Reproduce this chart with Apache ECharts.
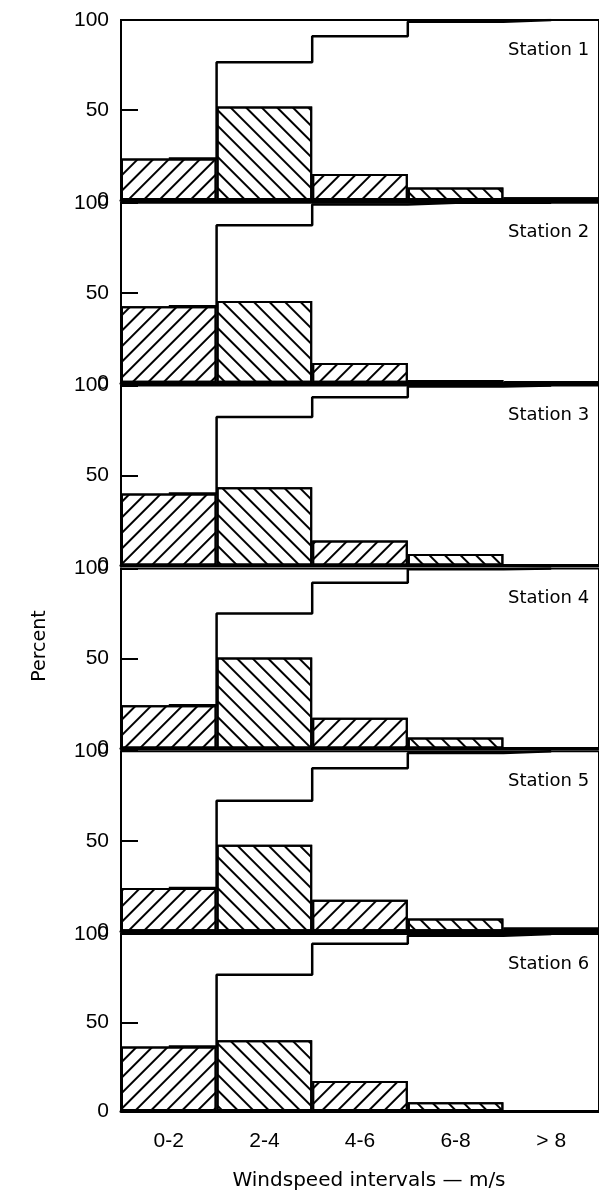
<!DOCTYPE html>
<html>
<head>
<meta charset="utf-8">
<script src="https://cdn.jsdelivr.net/npm/echarts@6/dist/echarts.min.js"></script>
<style>
  html, body { margin: 0; padding: 0; background: #fff; }
  #chart { width: 599px; height: 1192px; }
</style>
</head>
<body>
<div id="chart"></div>
<script>
// windspeed bins and y ticks
const bins = ['0-2', '2-4', '4-6', '6-8', '> 8']
const yTicks = [0, 50, 100]
const stations = ['Station 1', 'Station 2', 'Station 3', 'Station 4', 'Station 5', 'Station 6']

// frequency per interval (%)
const freq1 = [23, 52, 14.5, 7, 1.5]
const freq2 = [42.5, 45.5, 11, 1.5, 1]
const freq3 = [40, 43.5, 14, 6.5, 0]
const freq4 = [24, 50.5, 17, 6, 0]
const freq5 = [24, 48, 17.5, 7, 2]
const freq6 = [36.5, 40, 17, 5, 0]

// cumulative percent (step line)
const cum1 = [23, 76.5, 91, 99, 100]
const cum2 = [42.5, 87.5, 99, 100, 100]
const cum3 = [40, 82.5, 93.5, 99.5, 100]
const cum4 = [24, 75, 92, 99.5, 100]
const cum5 = [24, 72.5, 90.5, 99, 100]
const cum6 = [36.5, 77, 94.5, 99, 100]

const freqs = [freq1, freq2, freq3, freq4, freq5, freq6]
const cums = [cum1, cum2, cum3, cum4, cum5, cum6]

const FONT = 'Liberation Sans'
const gridLeft = 121
const binWidth = 97.3
const gridHeight = 180
const gridStep = 182.8
const firstTop = 20

// hatch patterns: /, \, /, \, dashes
const hatchFwd = { symbol: 'rect', symbolSize: 1, color: '#000', dashArrayX: [1, 0], dashArrayY: [2, 9], rotation: -Math.PI / 4 }
const hatchBack = { symbol: 'rect', symbolSize: 1, color: '#000', dashArrayX: [1, 0], dashArrayY: [2, 9], rotation: Math.PI / 4 }
const hatchDash = { symbol: 'rect', symbolSize: 1, color: '#000', dashArrayX: [8, 5], dashArrayY: [2, 3], rotation: 0 }
const patterns = [hatchFwd, hatchBack, hatchFwd, hatchBack, hatchDash]

const grids = []
const xAxes = []
const yAxes = []
const series = []
const graphics = []

stations.forEach((name, i) => {
  const top = firstTop + i * gridStep
  const last = i === stations.length - 1
  grids.push({
    left: gridLeft,
    top: top,
    width: binWidth * bins.length,
    height: gridHeight,
    show: true,
    borderColor: '#000',
    borderWidth: 2,
    backgroundColor: 'transparent'
  })
  xAxes.push({
    type: 'category',
    gridIndex: i,
    data: bins,
    boundaryGap: true,
    axisLine: { show: true, lineStyle: { color: '#000', width: 3 } },
    axisTick: { show: false },
    axisLabel: {
      show: last,
      color: '#000',
      fontFamily: FONT,
      fontSize: 21,
      margin: 20
    },
    name: last ? 'Windspeed intervals \u2014 m/s' : '',
    nameLocation: 'middle',
    nameGap: 60,
    nameTextStyle: { color: '#000', fontFamily: 'DejaVu Sans', fontSize: 20, padding: [0, 0, 0, 18] }
  })
  yAxes.push({
    type: 'value',
    gridIndex: i,
    min: yTicks[0],
    max: yTicks[yTicks.length - 1],
    interval: yTicks[1] - yTicks[0],
    splitLine: { show: false },
    axisLine: { show: true, lineStyle: { color: '#000', width: 2 } },
    axisTick: { show: true, inside: true, length: 17, lineStyle: { color: '#000', width: 2 } },
    axisLabel: { color: '#000', fontFamily: FONT, fontSize: 21, margin: 12 }
  })
  series.push({
    type: 'bar',
    xAxisIndex: i,
    yAxisIndex: i,
    barCategoryGap: '0%',
    itemStyle: { color: '#fff', borderColor: '#000', borderWidth: 2 },
    data: freqs[i].map((v, j) => ({ value: v, itemStyle: { decal: patterns[j] } })),
    z: 2
  })
  series.push({
    type: 'line',
    xAxisIndex: i,
    yAxisIndex: i,
    step: 'middle',
    symbol: 'none',
    lineStyle: { color: '#000', width: 2.5 },
    data: cums[i],
    z: 3
  })
  graphics.push({
    type: 'text',
    left: 508,
    top: top + 21,
    style: { text: name, fill: '#000', font: '18px "DejaVu Sans"' }
  })
})

graphics.push({
  type: 'text',
  x: 40,
  y: 646,
  rotation: Math.PI / 2,
  style: {
    text: 'Percent',
    fill: '#000',
    font: '19px "DejaVu Sans"',
    align: 'center',
    verticalAlign: 'middle'
  }
})

const chart = echarts.init(document.getElementById('chart'), null, { renderer: 'canvas' })
chart.setOption({
  animation: false,
  backgroundColor: '#fff',
  grid: grids,
  xAxis: xAxes,
  yAxis: yAxes,
  series: series,
  graphic: graphics
})
</script>
</body>
</html>
